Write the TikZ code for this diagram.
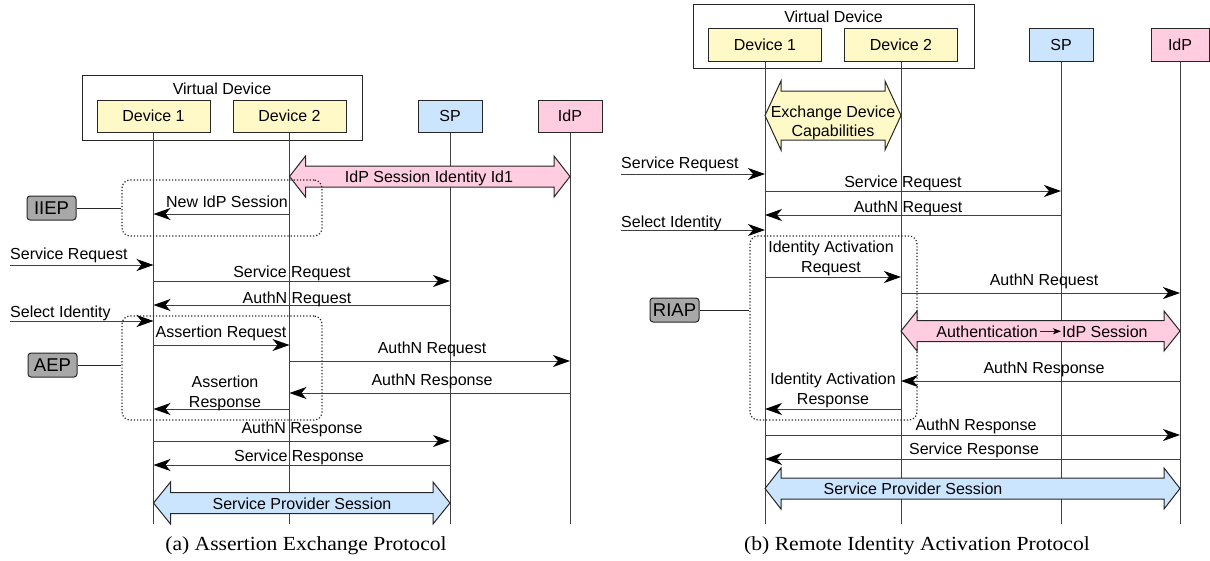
\documentclass[tikz,border=0pt]{standalone}
\usepackage{fontspec}
\usepackage{graphicx}
\setmainfont{Liberation Sans}
\newfontfamily\capfont{Liberation Serif}
\usetikzlibrary{arrows.meta}

\definecolor{devyellow}{RGB}{255,249,200}
\definecolor{spblue}{RGB}{204,229,255}
\definecolor{idppink}{RGB}{255,204,224}
\definecolor{taggray}{RGB}{168,168,168}

\tikzset{
  box/.style={draw=black!85, line width=1pt, inner sep=0pt, minimum height=32pt, font=\fontsize{16}{19}\selectfont},
  devbox/.style={box, fill=devyellow, minimum width=113pt},
  lifeline/.style={draw=black!75, line width=1pt},
  msg/.style={draw=black!75, line width=1pt, -{Stealth[length=17pt,width=12pt,inset=5pt,color=black]}},
  lbl/.style={inner sep=0pt, anchor=base, font=\fontsize{16}{20}\selectfont},
  grp/.style={draw=black!85, line width=1.2pt, dotted, rounded corners=8pt, inner sep=0pt},
  tag/.style={draw=black!85, fill=taggray, line width=1pt, rounded corners=3pt, inner sep=0pt,
    minimum width=49pt, minimum height=24pt, font=\fontsize{18.5}{20}\selectfont},
  link/.style={draw=black!85, line width=1pt},
  caption/.style={font=\capfont\fontsize{20}{22}\selectfont, inner sep=0pt},
}

% session band: x1, x2, y, half shaft, half head, head length, fill
\newcommand{\sessband}[7]{%
  \filldraw[draw=black!85, line width=1pt, fill=#7]
    (#1,#3) -- ({#1+#6},{#3-#5}) -- ({#1+#6},{#3-#4}) -- ({#2-#6},{#3-#4})
    -- ({#2-#6},{#3-#5}) -- (#2,#3) -- ({#2-#6},{#3+#5}) -- ({#2-#6},{#3+#4})
    -- ({#1+#6},{#3+#4}) -- ({#1+#6},{#3+#5}) -- cycle;}

\begin{document}
\begin{tikzpicture}[x=1pt,y=-1pt]
\useasboundingbox (0,0) rectangle (1210,560);

%%%%% (a) Assertion Exchange Protocol
% participants
\node[box, minimum width=280pt, minimum height=65pt] (vda) at (222,107.5) {};
\node[lbl] (vdalbl) at (222,94) {Virtual Device};
\node[devbox] (d1a) at (153.5,116) {Device 1};
\node[devbox] (d2a) at (289.5,116) {Device 2};
\node[box, fill=spblue, minimum width=64pt] (spa) at (450,116) {SP};
\node[box, fill=idppink, minimum width=64pt] (idpa) at (570,116) {IdP};

\foreach \n in {d1a,d2a,spa,idpa}
  \draw[lifeline] (\n.south) -- (\n |- 0,524);

% IIEP
\sessband{289.5}{570}{176.5}{10.5}{20.5}{16}{idppink}
\node[lbl] (idsess) at (429,182.5) {IdP Session Identity Id1};
\node[grp, minimum width=200pt, minimum height=56pt] (iiepgrp) at (222,208) {};
\node[tag] (iiep) at (51.5,208) {IIEP};
\draw[link] (iiep) -- (iiepgrp);
\draw[msg] (d2a |- 0,214) -- (d1a |- 0,214);
\node[lbl] (newsess) at (227,207) {New IdP Session};

% service request
\coordinate (sreqa) at (10,265);
\draw[msg] (sreqa) -- (d1a |- sreqa);
\node[lbl, anchor=base west] (sreqalbl) at (10,259) {Service Request};
\draw[msg] (d1a |- 0,281) -- (spa |- 0,281);
\node[lbl] (sreqa2) at (292,277) {Service Request};
\draw[msg] (spa |- 0,305) -- (d1a |- 0,305);
\node[lbl] (authreqa) at (297,303) {AuthN Request};
\coordinate (selida) at (10,321);
\draw[msg] (selida) -- (d1a |- selida);
\node[lbl, anchor=base west] (selidalbl) at (10,317) {Select Identity};

% AEP
\node[grp, minimum width=200pt, minimum height=104pt] (aepgrp) at (222,368) {};
\node[tag] (aep) at (52.5,365) {AEP};
\draw[link] (aep.east) -- (aep.east -| aepgrp.west);
\draw[msg] (d1a |- 0,345) -- (d2a |- 0,345);
\node[lbl] (assreq) at (221,337) {Assertion Request};
\draw[msg] (d2a |- 0,361) -- (idpa |- 0,361);
\node[lbl] (authreqa2) at (432,353) {AuthN Request};
\draw[msg] (idpa |- 0,393) -- (d2a |- 0,393);
\node[lbl] (authresa) at (432,385) {AuthN Response};
\draw[msg] (d2a |- 0,409) -- (d1a |- 0,409);
\node[lbl, anchor=center, align=center] (assres) at (225,393) {Assertion\\Response};

% service response
\draw[msg] (d1a |- 0,441) -- (spa |- 0,441);
\node[lbl] (authresa2) at (302,433) {AuthN Response};
\draw[msg] (spa |- 0,465) -- (d1a |- 0,465);
\node[lbl] (sresa) at (299,461) {Service Response};
\sessband{153.5}{450}{503}{10.5}{21}{17}{spblue}
\node[lbl] (spsessa) at (302,509) {Service Provider Session};

\node[caption] (capa) at (306,546) {\scalebox{1.08}[1]{(a) Assertion Exchange Protocol}};

%%%%% (b) Remote Identity Activation Protocol
% participants
\node[box, minimum width=281pt, minimum height=64pt] (vdb) at (833.5,36) {};
\node[lbl] (vdblbl) at (833.5,22.5) {Virtual Device};
\node[devbox, minimum height=33pt] (d1b) at (765,44.5) {Device 1};
\node[devbox, minimum height=33pt] (d2b) at (901,44.5) {Device 2};
\node[box, fill=spblue, minimum width=64pt, minimum height=33pt] (spb) at (1061,44.5) {SP};
\node[box, fill=idppink, minimum width=58pt, minimum height=33pt] (idpb) at (1180,44.5) {IdP};

\foreach \n in {d1b,d2b,spb,idpb}
  \draw[lifeline] (\n.south) -- (\n |- 0,524);

\sessband{765}{901}{115.5}{24.5}{34.5}{16}{devyellow}
\node[lbl, anchor=center, align=center, font=\fontsize{16}{19}\selectfont] (exch) at (833,122.5) {Exchange Device\\Capabilities};

% service request
\coordinate (sreqb) at (621,174);
\draw[msg] (sreqb) -- (d1b |- sreqb);
\node[lbl, anchor=base west] (sreqblbl) at (621,168) {Service Request};
\draw[msg] (d1b |- 0,191) -- (spb |- 0,191);
\node[lbl] (sreqb2) at (903,187) {Service Request};
\draw[msg] (spb |- 0,215) -- (d1b |- 0,215);
\node[lbl] (authreqb) at (908,212) {AuthN Request};
\coordinate (selidb) at (621,230);
\draw[msg] (selidb) -- (d1b |- selidb);
\node[lbl, anchor=base west] (selidblbl) at (621,227) {Select Identity};

% RIAP
\node[grp, minimum width=167pt, minimum height=184pt] (riapgrp) at (833.5,328) {};
\node[tag] (riap) at (674.5,310) {RIAP};
\draw[link] (riap.east) -- (riap.east -| riapgrp.west);
\draw[msg] (d1b |- 0,277) -- (d2b |- 0,277);
\node[lbl, anchor=center, align=center] (actreq) at (831,258) {Identity Activation\\Request};
\draw[msg] (d2b |- 0,293) -- (idpb |- 0,293);
\node[lbl] (authreqb2) at (1044,285) {AuthN Request};
\sessband{901}{1180}{331}{10.5}{20}{16}{idppink}
\node[lbl, anchor=base east] (authtxt) at (1038,337) {Authentication};
\node[lbl, anchor=base west] (idpsess) at (1062,337) {IdP Session};
\draw[link, shorten <=1.5pt, shorten >=1pt, -{Stealth[length=8pt,width=6pt,inset=2pt,color=black]}] (authtxt.east) -- (idpsess.west);
\draw[msg] (idpb |- 0,381) -- (d2b |- 0,381);
\node[lbl] (authresb) at (1044,373) {AuthN Response};
\draw[msg] (d2b |- 0,409) -- (d1b |- 0,409);
\node[lbl, anchor=center, align=center] (actres) at (833,390) {Identity Activation\\Response};

% service response
\draw[msg] (d1b |- 0,435) -- (idpb |- 0,435);
\node[lbl] (authresb2) at (976,430) {AuthN Response};
\draw[msg] (idpb |- 0,459) -- (d1b |- 0,459);
\node[lbl] (sresb) at (974,454) {Service Response};
\sessband{765}{1180}{488.5}{10.5}{20.5}{16}{spblue}
\node[lbl] (spsessb) at (913,494) {Service Provider Session};

\node[caption] (capb) at (917,546) {\scalebox{1.08}[1]{(b) Remote Identity Activation Protocol}};
\end{tikzpicture}
\end{document}
